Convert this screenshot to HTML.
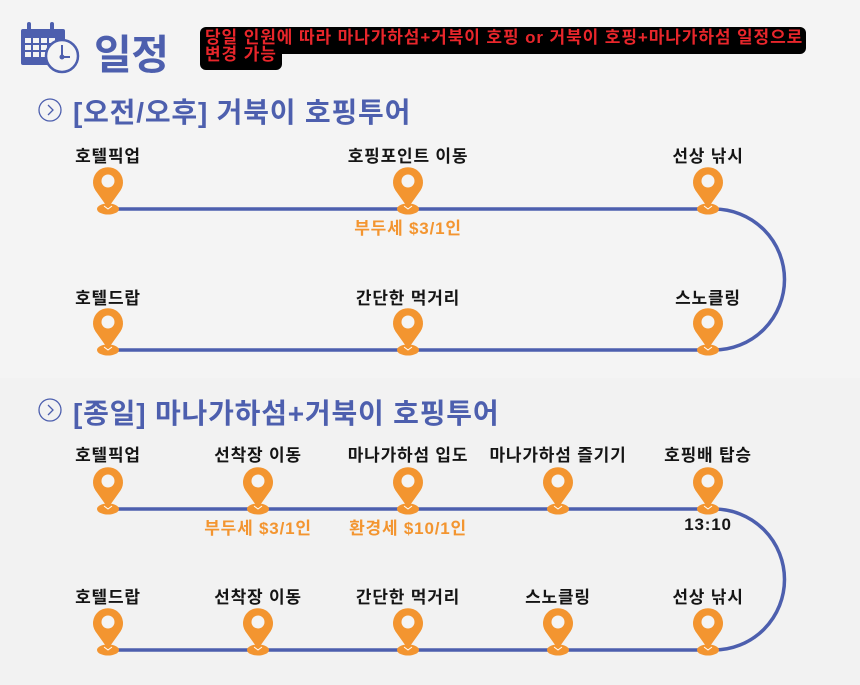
<!DOCTYPE html>
<html><head><meta charset="utf-8"><style>
html,body{margin:0;padding:0;}
body{width:860px;height:685px;background:#f4f4f4;overflow:hidden;position:relative;font-family:"Liberation Sans","Noto Sans CJK KR",sans-serif;}
.abs{position:absolute;}
.lbl{position:absolute;font-size:17px;font-weight:bold;color:#151515;transform:translateX(-50%);white-space:nowrap;letter-spacing:0.8px;}
.org{position:absolute;font-size:17px;font-weight:bold;color:#f39530;transform:translateX(-50%);white-space:nowrap;letter-spacing:0.8px;}
.sec{position:absolute;left:73px;font-size:28px;font-weight:bold;color:#4d5fae;white-space:nowrap;letter-spacing:0.8px;}
</style></head><body>
<div class="abs" style="left:0;top:378px;width:860px;height:307px;background:#f2f2f2"></div>
<svg class="abs" style="left:0;top:0" width="860" height="685">
<defs>
<g id="pin">
<path d="M0,26 L-12.5,8.5 A15,15 0 1,1 12.5,8.5 Z" fill="#f39530"/>
<circle cx="0" cy="-1" r="6.5" fill="#f4f4f4"/>
<ellipse cx="0" cy="27" rx="11" ry="5.5" fill="#f39530"/>
<path d="M-4,24 L0,27 L4,24" stroke="#fff" stroke-width="1" fill="none"/>
</g>
</defs>
<g fill="#4d5fae">
<rect x="21" y="29" width="44" height="36" rx="2"/>
<rect x="27" y="22" width="4" height="11" rx="2"/><rect x="50" y="22" width="4" height="11" rx="2"/>
</g>
<g fill="#f4f4f4">
<rect x="25" y="38" width="6" height="5"/><rect x="33" y="38" width="6" height="5"/><rect x="41" y="38" width="6" height="5"/><rect x="49" y="38" width="6" height="5"/>
<rect x="25" y="45" width="6" height="5"/><rect x="33" y="45" width="6" height="5"/><rect x="41" y="45" width="6" height="5"/>
<rect x="25" y="52" width="6" height="5"/><rect x="33" y="52" width="6" height="5"/><rect x="41" y="52" width="6" height="5"/>
</g>
<circle cx="62" cy="56" r="16" fill="#f4f4f4" stroke="#4d5fae" stroke-width="2.5"/>
<path d="M62,45 L62,57 L70,57" stroke="#4d5fae" stroke-width="2" fill="none"/>
<circle cx="62" cy="57" r="2.5" fill="#4d5fae"/>
<rect x="200" y="27" width="606" height="27" rx="6" fill="#000"/>
<rect x="200" y="44" width="82" height="26" rx="6" fill="#000"/>
<circle cx="50" cy="110" r="11" fill="none" stroke="#4d5fae" stroke-width="1.3"/>
<path d="M48,105 L53,110 L48,115" stroke="#4d5fae" stroke-width="1.3" fill="none"/>
<circle cx="50" cy="410" r="11" fill="none" stroke="#4d5fae" stroke-width="1.3"/>
<path d="M48,405 L53,410 L48,415" stroke="#4d5fae" stroke-width="1.3" fill="none"/>
<g stroke="#4d5fae" stroke-width="3.5" fill="none">
<path d="M108,209 L714,209 A70.5,70.5 0 0,1 714,350 L108,350"/>
<path d="M108,509 L714,509 A70.5,70.5 0 0,1 714,650 L108,650"/>
</g>
<use href="#pin" x="108" y="182"/><use href="#pin" x="408" y="182"/><use href="#pin" x="708" y="182"/>
<use href="#pin" x="108" y="323"/><use href="#pin" x="408" y="323"/><use href="#pin" x="708" y="323"/>
<use href="#pin" x="108" y="482"/><use href="#pin" x="258" y="482"/><use href="#pin" x="408" y="482"/><use href="#pin" x="558" y="482"/><use href="#pin" x="708" y="482"/>
<use href="#pin" x="108" y="623"/><use href="#pin" x="258" y="623"/><use href="#pin" x="408" y="623"/><use href="#pin" x="558" y="623"/><use href="#pin" x="708" y="623"/>
</svg>
<div class="abs" style="left:94px;top:21px;font-size:41px;font-weight:bold;color:#4d5fae;letter-spacing:-0.5px">일정</div>
<div class="abs" style="left:205px;top:29px;font-size:17px;font-weight:bold;color:#e8262b;line-height:17px;letter-spacing:0.9px;white-space:nowrap">당일 인원에 따라 마나가하섬+거북이 호핑 or 거북이 호핑+마나가하섬 일정으로<br>변경 가능</div>
<div class="sec" style="top:91px">[오전/오후] 거북이 호핑투어</div>
<div class="sec" style="top:392px">[종일] 마나가하섬+거북이 호핑투어</div>
<div class="lbl" style="left:108px;top:142px">호텔픽업</div>
<div class="lbl" style="left:408px;top:142px">호핑포인트 이동</div>
<div class="lbl" style="left:708px;top:142px">선상 낚시</div>
<div class="org" style="left:408px;top:214px">부두세 $3/1인</div>
<div class="lbl" style="left:108px;top:284px">호텔드랍</div>
<div class="lbl" style="left:408px;top:284px">간단한 먹거리</div>
<div class="lbl" style="left:708px;top:284px">스노클링</div>
<div class="lbl" style="left:108px;top:441px">호텔픽업</div>
<div class="lbl" style="left:258px;top:441px">선착장 이동</div>
<div class="lbl" style="left:408px;top:441px">마나가하섬 입도</div>
<div class="lbl" style="left:558px;top:441px">마나가하섬 즐기기</div>
<div class="lbl" style="left:708px;top:441px">호핑배 탑승</div>
<div class="org" style="left:258px;top:514px">부두세 $3/1인</div>
<div class="org" style="left:408px;top:514px">환경세 $10/1인</div>
<div class="lbl" style="left:708px;top:515px">13:10</div>
<div class="lbl" style="left:108px;top:583px">호텔드랍</div>
<div class="lbl" style="left:258px;top:583px">선착장 이동</div>
<div class="lbl" style="left:408px;top:583px">간단한 먹거리</div>
<div class="lbl" style="left:558px;top:583px">스노클링</div>
<div class="lbl" style="left:708px;top:583px">선상 낚시</div>
</body></html>
